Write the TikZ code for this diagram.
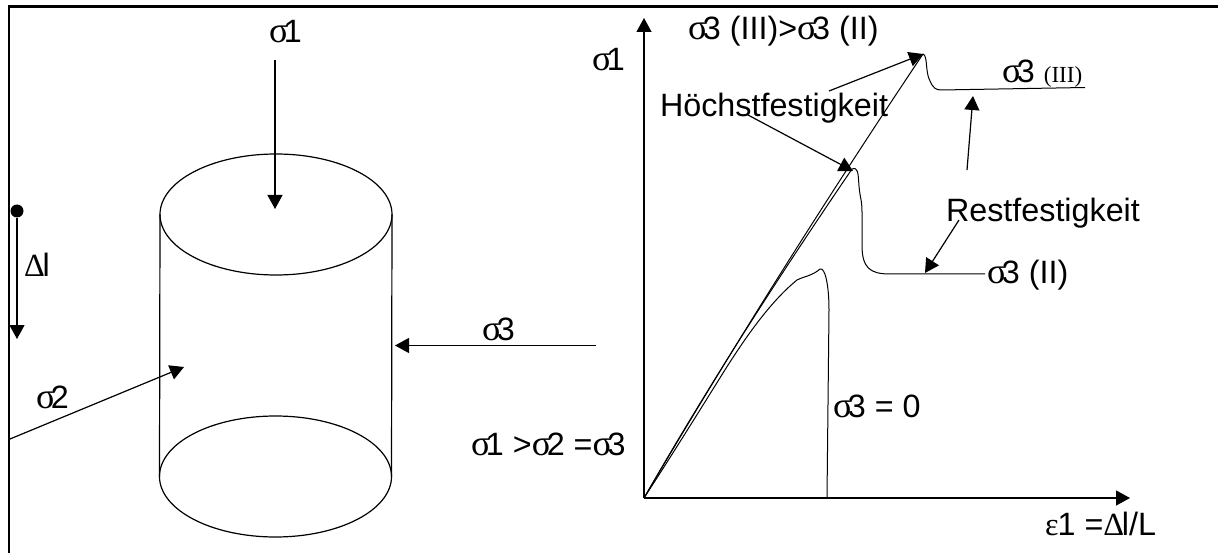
\documentclass[tikz,border=0pt]{standalone}
\usepackage{fontspec}
\setmainfont{Liberation Sans}
\newfontfamily\symfont[Scale=1.12]{Liberation Serif}
\newfontfamily\smallserif{Liberation Serif}
\usetikzlibrary{arrows.meta,shapes.geometric}
\newcommand{\sgm}{{\symfont σ}\kern-.14em}
\newcommand{\dlt}{{\smallserif Δ}\kern-.07em}
\newcommand{\eps}{{\smallserif ε}\kern-.03em}
\tikzset{
  lbl/.style={anchor=base west,inner sep=0pt,outer sep=0pt,font=\fontsize{32.3}{36}\selectfont},
  ln/.style={line width=1.2pt,black},
  arr/.style={ln,-{Triangle[length=14pt,width=15pt]}},
  cyl/.style={ellipse,draw,line width=1.2pt,inner sep=0pt,outer sep=0pt,minimum width=232pt,minimum height=121pt},
  curve/.style={line width=1pt,black,line join=round},
  frame/.style={line width=2.6pt,black}
}
\begin{document}
\begin{tikzpicture}[x=1pt,y=-1pt]
\useasboundingbox (0,0) rectangle (1218,553);
% frame
\coordinate (fa) at (9,553); \coordinate (fb) at (9,6.5); \coordinate (fc) at (1218,6.5);
\draw[frame] (fa) -- (fb) -- (fc);
% cylinder
\node[cyl] (top) at (276,214.5) {};
\node[cyl] (bot) at (275.5,476.5) {};
\draw[ln] (top.west) -- (bot.west);
\draw[ln] (top.east) -- (bot.east);
% load arrows
\coordinate (s1a) at (275,60); \coordinate (s1b) at (275,209);
\draw[arr] (s1a) -- (s1b);
\node[lbl] (ls1) at (269,43) {\sgm 1};
\node[circle,fill=black,inner sep=0pt,minimum size=13pt] (dot) at (17,211) {};
\coordinate (dlb) at (17,339);
\draw[arr] (dot) -- (dlb);
\node[lbl] (ldl) at (24,277) {\dlt l};
\coordinate (s2a) at (10,439); \coordinate (s2b) at (184,367);
\draw[arr] (s2a) -- (s2b);
\node[lbl] (ls2) at (36,408) {\sgm 2};
\coordinate (s3a) at (596,345.5); \coordinate (s3b) at (395,345.5);
\draw[arr] (s3a) -- (s3b);
\node[lbl] (ls3) at (482,340) {\sgm 3};
\node[lbl] (lrel) at (471,455) {\sgm 1 >\sgm 2 =\sgm 3};
% axes
\coordinate (O) at (644,498); \coordinate (ytip) at (644,18); \coordinate (xtip) at (1130,498);
\draw[arr] (O) -- (ytip);
\draw[arr] (O) -- (xtip);
\node[lbl] (ly) at (592,71) {\sgm 1};
\node[lbl] (lx) at (1045,535) {\eps 1 =\dlt l/L};
% curves
\coordinate (p3) at (923,54);
\coordinate (e3) at (1085,87.5);
\draw[curve] (O) .. controls (731,350) and (824,202) .. (p3) .. controls (928,56) and (925,72) .. (930,81) .. controls (933,88) and (936,90) .. (941,90) -- (e3);
\coordinate (p2) at (852,169);
\coordinate (e2) at (985,274);
\draw[curve] (O) .. controls (707,388) and (777,279) .. (p2) .. controls (858,167) and (858,172) .. (859,186) .. controls (860,198) and (862,200) .. (862,212) -- (862,245) .. controls (862,268) and (870,274) .. (890,274) -- (e2);
\coordinate (e1) at (827,498);
\draw[curve] (O) .. controls (670,458) and (700,410) .. (723,373) .. controls (745,338) and (770,302) .. (797,280) .. controls (805,276) and (812,276) .. (820,269) .. controls (825,267) and (829,285) .. (829,310) -- (e1);
% annotation arrows
\coordinate (h3a) at (829,91); \coordinate (h3b) at (923,54);
\draw[arr] (h3a) -- (h3b);
\coordinate (h2a) at (748,115); \coordinate (h2b) at (853,171);
\draw[arr] (h2a) -- (h2b);
\coordinate (r3a) at (967,170); \coordinate (r3b) at (973,96);
\draw[arr] (r3a) -- (r3b);
\coordinate (r2a) at (959,220); \coordinate (r2b) at (925,273);
\draw[arr] (r2a) -- (r2b);
% labels
\node[lbl] (lcmp) at (688,40) {\sgm 3 (III)>\sgm 3 (II)};
\node[lbl] (lh) at (660,117) {Höchstfestigkeit};
\node[lbl] (lr) at (946,222) {Restfestigkeit};
\node[lbl] (l3) at (1002,83) {\sgm 3 {\smallserif\fontsize{23}{26}\selectfont (III)}};
\node[lbl] (l2) at (987,284) {\sgm 3 (II)};
\node[lbl] (l0) at (833,417) {\sgm 3 = 0};
\end{tikzpicture}
\end{document}
